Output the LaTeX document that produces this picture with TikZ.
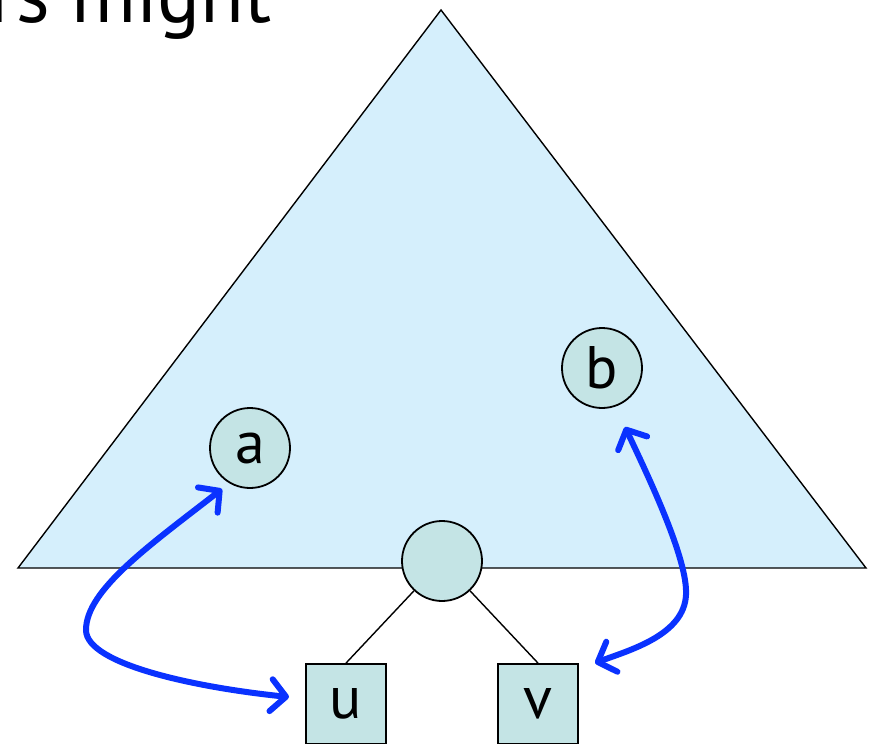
\documentclass[tikz,border=0pt]{standalone}
\usepackage{fontspec}
\setmainfont{PT Sans}
\usetikzlibrary{arrows.meta}
\definecolor{trifill}{RGB}{213,239,252}
\definecolor{nodefill}{RGB}{196,228,229}
\definecolor{arrblue}{RGB}{10,50,255}
\tikzset{
  circnode/.style={circle, draw=black, line width=1.8pt, fill=nodefill, minimum size=80pt, inner sep=0pt, font=\fontsize{60}{62}\selectfont},
  leafnode/.style={rectangle, draw=black, line width=1.8pt, fill=nodefill, minimum width=80pt, minimum height=80pt, inner sep=0pt, font=\fontsize{60}{62}\selectfont},
  bluearrow/.style={draw=arrblue, line width=6pt, line cap=round,
    {Straight Barb[length=15pt, width=32pt, line cap=round, line join=round]}-{Straight Barb[length=15pt, width=32pt, line cap=round, line join=round]}},
  edge/.style={draw=black, line width=1.4pt}
}
\begin{document}
\begin{tikzpicture}[x=1pt, y=-1pt]
\useasboundingbox (0,0) rectangle (879,744);
\clip (0,0) rectangle (879,744);
\fill[white] (0,0) rectangle (879,744);
% title fragment
\node[anchor=base east, inner sep=0pt, font=\fontsize{80}{90}\selectfont] (title) at (272,23) {rs might};
% big triangle
\draw[fill=trifill, line width=1.4pt, line join=miter] (441,10) -- (866,568) -- (18,568) -- cycle;
% nodes
\node[circnode] (a) at (250,448) {a};
\node[circnode] (b) at (602,368) {b};
\node[circnode] (c) at (442,561) {};
\node[leafnode] (u) at (346,704) {u};
\node[leafnode] (v) at (538,704) {v};
% edges
\draw[edge] (c) -- (u.north);
\draw[edge] (c) -- (v.north);
% arrow endpoints
\coordinate (aend) at (222,489);
\coordinate (uend) at (289,697);
\coordinate (bend) at (625,427);
\coordinate (vend) at (595,663);
% blue arrows
\draw[bluearrow] (aend) .. controls (150,545) and (86,590) .. (86,630)
  .. controls (86,665) and (200,688) .. (uend);
\draw[bluearrow] (bend) .. controls (650,480) and (688,560) .. (686,595)
  .. controls (684,635) and (630,650) .. (vend);
\end{tikzpicture}
\end{document}
